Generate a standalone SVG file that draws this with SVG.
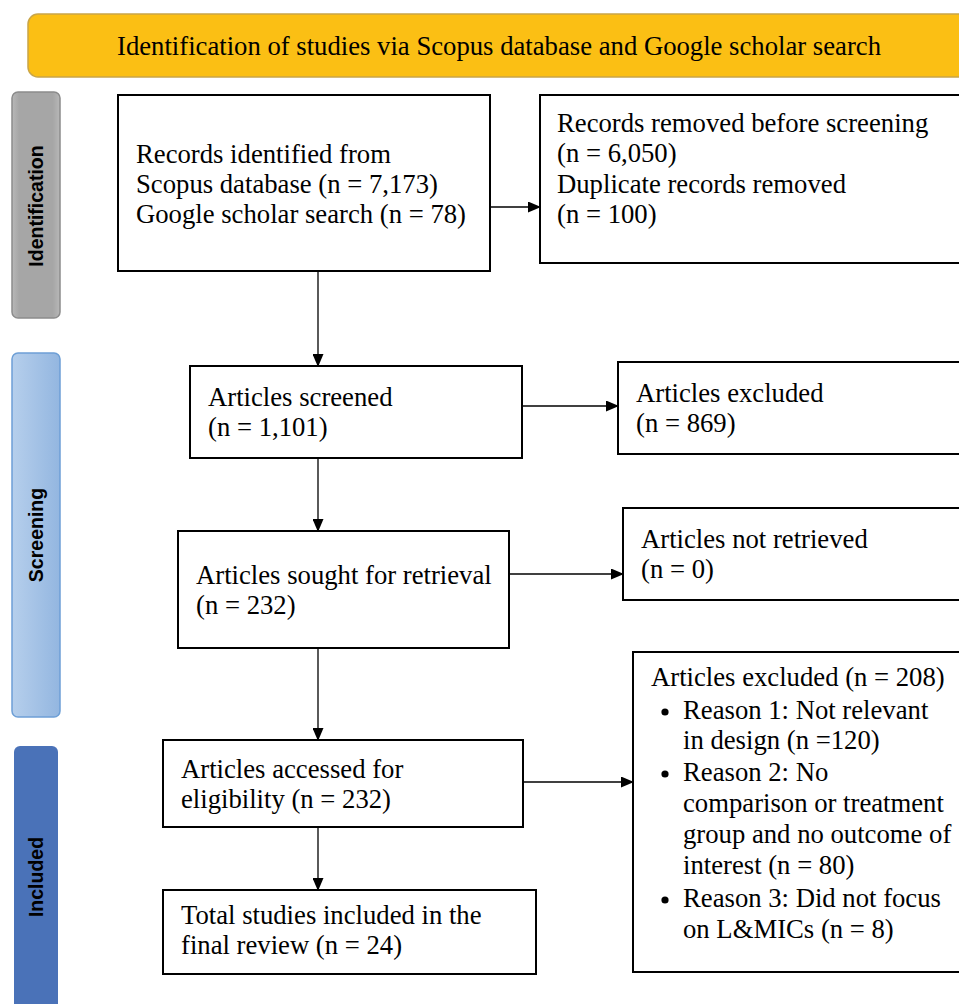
<svg xmlns="http://www.w3.org/2000/svg" width="959" height="1004" viewBox="0 0 959 1004">
<style>
.box{fill:#fff;stroke:#000;stroke-width:2}
.t{font-family:"Liberation Serif","Times New Roman",serif;font-size:26.7px;fill:#000}
.side{font-family:"Liberation Sans",Arial,sans-serif;font-size:19.5px;font-weight:bold;fill:#000}
.ln{stroke:#000;stroke-width:1.3;fill:none}
</style>
<defs>
<marker id="ah" markerWidth="13" markerHeight="11" refX="12" refY="5.5" orient="auto" markerUnits="userSpaceOnUse">
<path d="M0,0 L13,5.5 L0,11 Z" fill="#000"/>
</marker>
<linearGradient id="gGray" x1="0" x2="1" y1="0" y2="0">
<stop offset="0" stop-color="#b8b8b8"/><stop offset="0.15" stop-color="#a6a6a6"/><stop offset="0.85" stop-color="#a6a6a6"/><stop offset="1" stop-color="#b8b8b8"/>
</linearGradient>
<linearGradient id="gBlue" x1="0" x2="1" y1="0" y2="0">
<stop offset="0" stop-color="#b6cfec"/><stop offset="1" stop-color="#93b6e0"/>
</linearGradient>
</defs>
<g id="title">
<rect x="28" y="14" width="945" height="63" rx="10" fill="#fbbf14" stroke="#c9a548" stroke-width="1.5"/>
<text class="t" x="499" y="55" text-anchor="middle" textLength="764" lengthAdjust="spacingAndGlyphs">Identification of studies via Scopus database and Google scholar search</text>
</g>
<g id="phase-identification">
<rect x="12" y="92" width="48" height="226" rx="6" fill="url(#gGray)" stroke="#8c8c8c" stroke-width="1.5"/>
<text class="side" transform="translate(43,206) rotate(-90)" text-anchor="middle">Identification</text>
</g>
<g id="phase-screening">
<rect x="12" y="353" width="48" height="364" rx="6" fill="url(#gBlue)" stroke="#6d9fd6" stroke-width="1.5"/>
<text class="side" transform="translate(43,535) rotate(-90)" text-anchor="middle">Screening</text>
</g>
<g id="phase-included">
<rect x="14" y="746" width="44" height="270" rx="6" fill="#4a72b8"/>
<text class="side" transform="translate(43,877) rotate(-90)" text-anchor="middle">Included</text>
</g>
<g id="connectors">
<line class="ln" x1="490" y1="207" x2="540" y2="207" marker-end="url(#ah)"/>
<line class="ln" x1="318" y1="271" x2="318" y2="366" marker-end="url(#ah)"/>
<line class="ln" x1="522" y1="406" x2="618" y2="406" marker-end="url(#ah)"/>
<line class="ln" x1="318" y1="458" x2="318" y2="531" marker-end="url(#ah)"/>
<line class="ln" x1="509" y1="574" x2="623" y2="574" marker-end="url(#ah)"/>
<line class="ln" x1="318" y1="648" x2="318" y2="740" marker-end="url(#ah)"/>
<line class="ln" x1="523" y1="782" x2="633" y2="782" marker-end="url(#ah)"/>
<line class="ln" x1="318" y1="827" x2="318" y2="890" marker-end="url(#ah)"/>
</g>
<g id="n-records-identified">
<rect class="box" x="118" y="95" width="372" height="176"/>
<text class="t" x="136" y="163">Records identified from</text>
<text class="t" x="136" y="193">Scopus database (n = 7,173)</text>
<text class="t" x="136" y="223">Google scholar search (n = 78)</text>
</g>
<g id="n-records-removed">
<rect class="box" x="540" y="95" width="430" height="168"/>
<text class="t" x="557" y="132">Records removed before screening</text>
<text class="t" x="557" y="162">(n = 6,050)</text>
<text class="t" x="557" y="193">Duplicate records removed</text>
<text class="t" x="557" y="223">(n = 100)</text>
</g>
<g id="n-screened">
<rect class="box" x="190" y="366" width="332" height="92"/>
<text class="t" x="208" y="406">Articles screened</text>
<text class="t" x="208" y="436">(n = 1,101)</text>
</g>
<g id="n-excluded-869">
<rect class="box" x="618" y="362" width="355" height="92"/>
<text class="t" x="636" y="402">Articles excluded</text>
<text class="t" x="636" y="432">(n = 869)</text>
</g>
<g id="n-sought">
<rect class="box" x="178" y="531" width="331" height="117"/>
<text class="t" x="196" y="584">Articles sought for retrieval</text>
<text class="t" x="196" y="614">(n = 232)</text>
</g>
<g id="n-not-retrieved">
<rect class="box" x="623" y="508" width="350" height="92"/>
<text class="t" x="641" y="548">Articles not retrieved</text>
<text class="t" x="641" y="578">(n = 0)</text>
</g>
<g id="n-eligibility">
<rect class="box" x="163" y="740" width="360" height="87"/>
<text class="t" x="181" y="778">Articles accessed for</text>
<text class="t" x="181" y="808">eligibility (n = 232)</text>
</g>
<g id="n-excluded-208">
<rect class="box" x="633" y="652" width="340" height="320"/>
<text class="t" x="651" y="686">Articles excluded (n = 208)</text>
<circle cx="665" cy="712" r="3.6" fill="#000"/>
<text class="t" x="683" y="719">Reason 1: Not relevant</text>
<text class="t" x="683" y="749">in design (n =120)</text>
<circle cx="665" cy="774" r="3.6" fill="#000"/>
<text class="t" x="683" y="781">Reason 2: No</text>
<text class="t" x="683" y="812">comparison or treatment</text>
<text class="t" x="683" y="843">group and no outcome of</text>
<text class="t" x="683" y="874">interest (n = 80)</text>
<circle cx="665" cy="900" r="3.6" fill="#000"/>
<text class="t" x="683" y="907">Reason 3: Did not focus</text>
<text class="t" x="683" y="938">on L&amp;MICs (n = 8)</text>
</g>
<g id="n-included">
<rect class="box" x="163" y="890" width="373" height="84"/>
<text class="t" x="181" y="924">Total studies included in the</text>
<text class="t" x="181" y="954">final review (n = 24)</text>
</g>
</svg>
